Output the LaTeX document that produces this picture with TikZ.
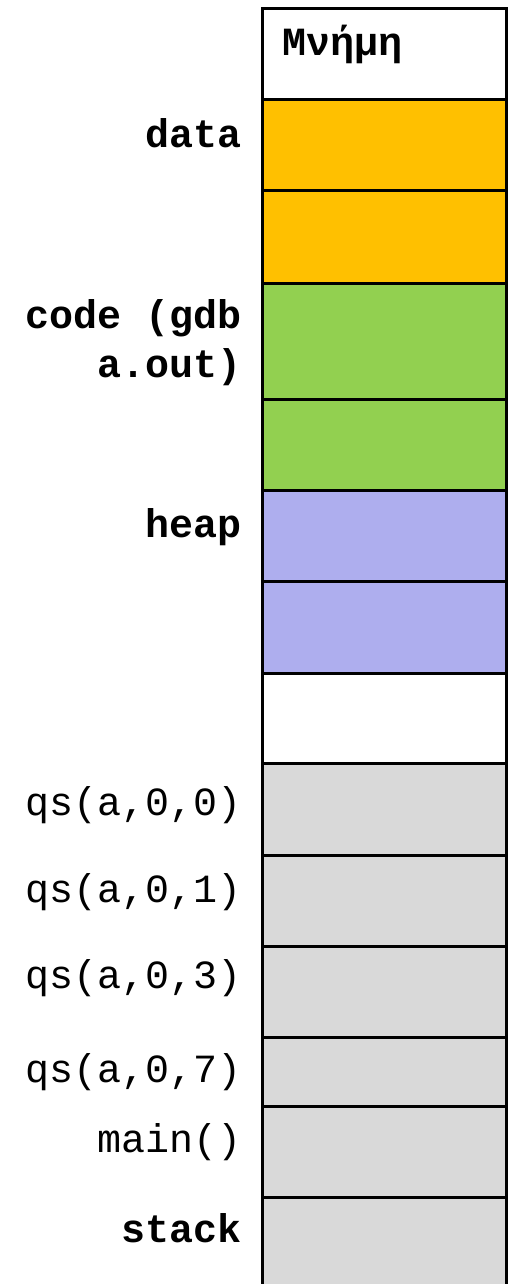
\documentclass[tikz,border=0pt]{standalone}
\usepackage{fontspec}
\setmonofont{Liberation Mono}
\definecolor{segdata}{HTML}{FFC000}
\definecolor{segcode}{HTML}{92D050}
\definecolor{segheap}{HTML}{AEAEEE}
\definecolor{segstack}{HTML}{D9D9D9}
\tikzset{
  cell/.style={draw=black, line width=3pt, inner sep=0pt, outer sep=0pt,
    minimum width=244pt},
  lbl/.style={font=\ttfamily\fontsize{40}{48}\selectfont, anchor=base east, inner sep=0pt},
  lblb/.style={lbl, font=\ttfamily\bfseries\fontsize{40}{48}\selectfont},
}
% a memory cell between two y values
\newcommand{\memcell}[4]{%
  \node[cell, fill=#4, minimum height={#3-#2}] (#1) at (384,{(#2+#3)/2}) {};}
\begin{document}
\begin{tikzpicture}[x=1pt,y=-1pt]
\clip (0,0) rectangle (511,1284);
\fill[white] (0,0) rectangle (511,1284);
% memory column, top to bottom
\memcell{m0}{9}{100}{white}
\memcell{d1}{100}{191}{segdata}
\memcell{d2}{191}{283}{segdata}
\memcell{c1}{283}{399}{segcode}
\memcell{c2}{399}{490}{segcode}
\memcell{h1}{490}{581}{segheap}
\memcell{h2}{581}{673}{segheap}
\memcell{f0}{673}{763}{white}
\memcell{s1}{763}{855}{segstack}
\memcell{s2}{855}{946}{segstack}
\memcell{s3}{946}{1037}{segstack}
\memcell{s4}{1037}{1106}{segstack}
\memcell{s5}{1106}{1197}{segstack}
\memcell{s6}{1197}{1300}{segstack}
% title inside the top cell
\node[lblb, anchor=base west] (title) at (282,56) {Μνήμη};
% labels on the left
\node[lblb] (ldata) at (242,148) {data};
\node[lblb] (lcode1) at (242,328) {code (gdb};
\node[lblb] (lcode2) at (242,377) {a.out)};
\node[lblb] (lheap) at (242,537) {heap};
\node[lbl] (lq0) at (242,815) {qs(a,0,0)};
\node[lbl] (lq1) at (242,902) {qs(a,0,1)};
\node[lbl] (lq3) at (242,988) {qs(a,0,3)};
\node[lbl] (lq7) at (242,1082) {qs(a,0,7)};
\node[lbl] (lmain) at (242,1152) {main()};
\node[lblb] (lstack) at (242,1242) {stack};
\end{tikzpicture}
\end{document}
